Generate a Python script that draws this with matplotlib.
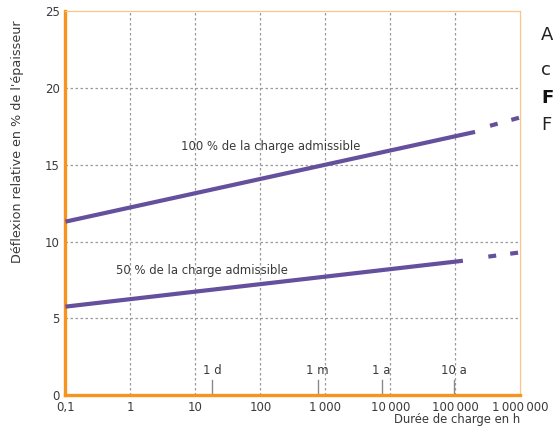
import numpy as np
import matplotlib
matplotlib.use("Agg")
import matplotlib.pyplot as plt

# load duration in h (log axis) and deflection in % of thickness
x_ticks = [0.1, 1, 10, 100, 1000, 10000, 100000, 1000000]
x_ticklabels = ["0,1", "1", "10", "100", "1\u2009000", "10\u2009000",
                "100\u2009000", "1\u2009000\u2009000"]
y_ticks = [0, 5, 10, 15, 20, 25]

# 100 % of admissible load
full_x = [0.1, 2.0e5]
full_y = [11.3, 17.15]
full_x_ext = [3.4e5, 1.0e6]
full_y_ext = [17.55, 18.1]

# 50 % of admissible load
half_x = [0.1, 1.3e5]
half_y = [5.76, 8.75]
half_x_ext = [3.2e5, 1.0e6]
half_y_ext = [9.02, 9.3]

# time markers on the x axis
mark_x = [18, 760, 7300, 95000]
mark_labels = ["1 d", "1 m", "1 a", "10 a"]

ORANGE = "#f7941d"
LIGHT_ORANGE = "#fbc58a"
PURPLE = "#64509c"
GRID = "#9a9a9a"
TXT = "#3a3a3a"
FS = 8.4

plt.rcParams['font.family'] = ['DejaVu Sans']

fig = plt.figure(figsize=(5.53, 4.29), dpi=100)
ax = fig.add_axes([0.1184, 0.0793, 0.8228, 0.8939])

ax.set_xscale('log')
ax.set_xlim(0.1, 1e6)
ax.set_ylim(0, 25)

# grid
for gx in x_ticks[1:-1]:
    ax.axvline(gx, color=GRID, lw=0.9, ls=(0, (2, 2)), zorder=1)
for gy in y_ticks[1:-1]:
    ax.axhline(gy, color=GRID, lw=0.9, ls=(0, (2, 2)), zorder=1)

# curves
ax.plot(full_x, full_y, color=PURPLE, lw=3, solid_capstyle='butt', zorder=3)
ax.plot(full_x_ext, full_y_ext, color=PURPLE, lw=3, dashes=[1.9, 3.4],
        dash_capstyle='butt', zorder=3)
ax.plot(half_x, half_y, color=PURPLE, lw=3, solid_capstyle='butt', zorder=3)
ax.plot(half_x_ext, half_y_ext, color=PURPLE, lw=3, dashes=[1.9, 3.4],
        dash_capstyle='butt', zorder=3)

ax.text(145, 16.2, "100 % de la charge admissible", fontsize=FS,
        color=TXT, ha='center', va='center', zorder=4)
ax.text(12.4, 8.1, "50 % de la charge admissible", fontsize=FS,
        color=TXT, ha='center', va='center', zorder=4)

# time markers
for mx, ml in zip(mark_x, mark_labels):
    ax.plot([mx, mx], [0, 1.0], color="#8a8a8a", lw=1, zorder=2)
    ax.text(mx, 1.6, ml, fontsize=FS, color=TXT, ha='center', va='center')

ax.set_xticks(x_ticks)
ax.set_xticklabels(x_ticklabels)
ax.set_yticks(y_ticks)
ax.minorticks_off()
ax.tick_params(length=0, labelsize=8.5, labelcolor=TXT, pad=4)
ax.tick_params(axis='y', pad=4)

for s in ['left', 'bottom']:
    ax.spines[s].set_color(ORANGE)
    ax.spines[s].set_linewidth(2.4)
for s in ['top', 'right']:
    ax.spines[s].set_color(LIGHT_ORANGE)
    ax.spines[s].set_linewidth(0.9)

fig.text(18 / 553, 1 - 142 / 429, "Déflexion relative en % de l'épaisseur",
         rotation=90, fontsize=9.2, color=TXT, ha='center', va='center')
fig.text(520 / 553, 1 - 420 / 429, "Durée de charge en h", fontsize=FS,
         color=TXT, ha='right', va='center')

# cut-off text from the neighbouring column
fig.text(541 / 553, 1 - 35 / 429, "A", fontsize=13, color="#222222", va='center')
fig.text(541 / 553, 1 - 70 / 429, "c", fontsize=13, color="#222222", va='center')
fig.text(541 / 553, 1 - 98 / 429, "F", fontsize=13, color="#111111",
         va='center', fontweight='bold')
fig.text(541 / 553, 1 - 125 / 429, "F", fontsize=13, color="#222222", va='center')

fig.savefig("out.png", dpi=100)
